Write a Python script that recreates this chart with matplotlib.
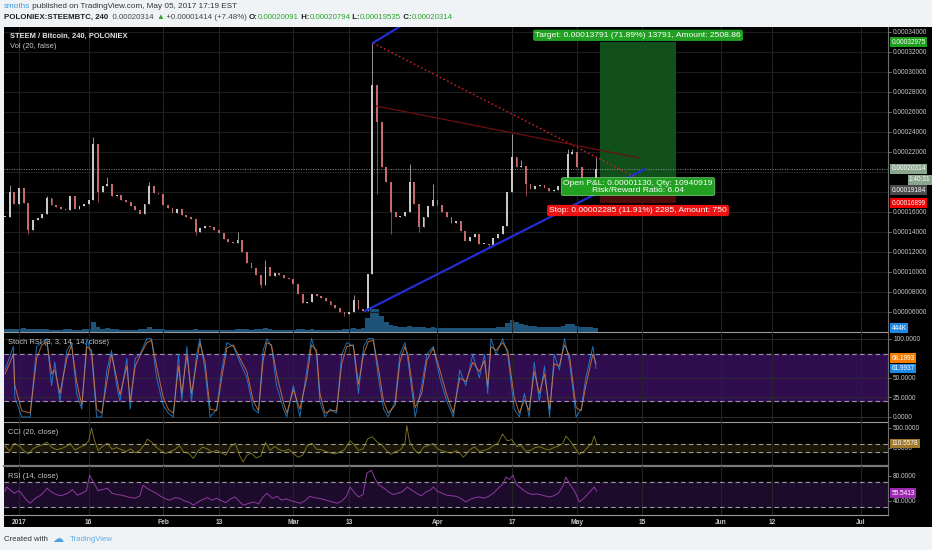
import matplotlib
matplotlib.use('Agg')
import matplotlib.pyplot as plt
import numpy as np
from matplotlib.patches import Rectangle

plt.rcParams['font.family'] = ['Liberation Sans', 'DejaVu Sans']

# ---- data (days counted from 2017-01-01) ----
first_day = -3
# daily close, in 1e-6 BTC
close_u = [155, 180, 168, 184, 169, 142, 152, 154, 158, 174,
           167, 165, 163, 162, 176, 163, 166, 168, 172, 228,
           180, 186, 188, 176, 177, 172, 170, 166, 162, 158,
           168, 186, 179, 178, 167, 164, 159, 163, 157, 155,
           153, 140, 144, 146, 145, 142, 139, 133, 130, 129,
           132, 120, 109, 104, 97, 87, 105, 96, 99, 97,
           94, 93, 88, 78, 69, 70, 78, 76, 74, 71,
           67, 64, 60, 58, 60, 72, 63, 61, 98, 287,
           250, 205, 190, 160, 155, 156, 160, 190, 168, 145,
           155, 166, 172, 167, 160, 155, 149, 151, 141, 131,
           135, 138, 128, 128, 127, 134, 138, 146, 180, 215,
           205, 206, 188, 183, 186, 187, 184, 181, 182, 186,
           187, 218, 220, 205, 182, 186, 188, 203.14]
high_wicks = {-2: 187, 6: 176, 16: 235, 19: 195, 28: 190, 38: 153, 47: 140,
              53: 112, 72: 77, 76: 330, 78: 240, 84: 208, 89: 188, 106: 238,
              108: 212, 118: 223, 119: 223, 124: 215}
low_wicks = {2: 138, 17: 170, 38: 137, 52: 84, 70: 56, 77: 178, 80: 138,
             86: 140, 101: 124, 109: 176, 121: 176}
# volume, thousands
volume_k = [300, 350, 320, 280, 400, 380, 320, 300, 280, 300,
            260, 250, 270, 300, 320, 260, 250, 280, 350, 1100,
            550, 380, 400, 300, 280, 260, 250, 240, 260, 280,
            350, 500, 350, 300, 280, 260, 240, 250, 230, 220,
            240, 300, 260, 240, 230, 220, 240, 260, 250, 240,
            300, 320, 280, 260, 300, 350, 400, 300, 260, 240,
            230, 220, 260, 300, 280, 260, 280, 250, 230, 220,
            220, 240, 260, 300, 280, 450, 350, 400, 1500, 2600,
            2500, 1800, 1100, 800, 650, 600, 550, 700, 600, 550,
            500, 480, 500, 450, 420, 400, 420, 400, 450, 480,
            430, 420, 440, 430, 420, 450, 500, 600, 1000, 1300,
            1100, 900, 800, 700, 650, 600, 600, 580, 560, 600,
            620, 900, 850, 700, 600, 550, 520, 444]

stoch_days = [-3.0, -1.2, -0.9, 0.6, 2.4, 3.8, 4.9, 6.0, 7.0, 7.7, 8.8, 10.3, 11.3, 12.4,
              13.5, 14.6, 15.6, 16.7, 17.8, 18.9, 19.9, 21.0, 21.7, 23.2, 23.9, 25.0, 26.0,
              27.5, 28.5, 29.6, 31.0, 32.1, 33.2, 34.3, 35.0, 36.1, 37.1, 38.2, 38.9, 40.0,
              41.1, 42.5, 43.6, 44.7, 46.1, 47.5, 49.0, 50.4, 51.5, 52.5, 53.3, 54.3, 55.4,
              56.9, 57.6, 59.0, 60.4, 61.9, 62.9, 64.0, 64.7, 65.8, 66.9, 68.3, 69.4, 70.5,
              71.9, 73.0, 74.1, 75.1, 76.2, 77.3, 78.4, 79.4, 80.9, 81.9, 83.0, 83.7, 85.2,
              86.6, 87.7, 89.1, 90.5, 92.0, 93.4, 94.8, 96.1, 97.6, 99.0, 100.1, 100.8,
              101.5, 102.6, 104.0, 105.1, 106.5, 107.6, 108.7, 109.7, 110.8, 111.9, 113.0,
              114.1, 115.1, 116.2, 117.3, 118.4, 119.8, 120.9, 121.9, 123.4, 124.1]
stoch_k = [60, 90, 25, 0, 0, 90, 95, 100, 40, 70, 20, 85, 95, 30, 10, 100, 80, 0, 0, 60,
           85, 40, 20, 75, 10, 75, 80, 100, 100, 50, 15, 5, 0, 80, 20, 90, 20, 80, 100, 60,
           0, 10, 60, 95, 90, 70, 50, 10, 5, 85, 100, 90, 40, 10, 0, 40, 0, 60, 100, 80,
           20, 0, 10, 5, 80, 95, 90, 30, 90, 100, 100, 50, 10, 0, 20, 80, 95, 70, 0, 40,
           80, 90, 50, 20, 0, 60,
           40, 80, 50, 80, 30, 100, 80, 100, 80, 10, 0, 30, 0, 70, 20, 65, 0, 80, 60, 100,
           70, 0, 10, 50, 90, 62]
stoch_d = [55, 80, 40, 8, 5, 75, 92, 96, 55, 60, 30, 75, 92, 45, 15, 90, 85, 10, 5, 45,
           80, 50, 28, 65, 20, 65, 78, 95, 98, 65, 25, 10, 5, 65, 30, 80, 30, 70, 95, 70,
           10, 8, 50, 88, 92, 75, 58, 20, 8, 72, 95, 92, 55, 18, 5, 35, 10, 50, 92, 85,
           30, 5, 8, 8, 68, 90, 92, 42, 80, 96, 98, 62, 20, 5, 15, 70, 90, 78, 12, 30,
           72, 88, 60, 28, 5, 50,
           45, 70, 58, 72, 40, 90, 85, 95, 85, 25, 5, 22, 8, 58, 30, 55, 10, 68, 65, 92,
           78, 12, 8, 40, 80, 68.2]

cci_days = [-3, -2, -1, 0, 1, 2, 3, 4, 5, 6, 7, 8, 9, 10, 11, 12, 13, 14, 15, 15.6, 16.2,
            17, 18, 19, 20, 21, 22, 23, 24, 25, 26, 27, 27.6, 28.5, 29.5, 30.5, 31.5, 32.5,
            33.5, 34.5, 35.5, 36.5, 37.5, 38.5, 39.5, 40.5, 41.5, 42.5, 43.5, 44.5, 45.5,
            46.5, 47.5, 48.2, 49, 50, 51, 52, 53, 54, 55, 56, 57, 58, 59, 60, 61, 62, 63,
            64, 65, 66, 67, 68, 69, 70, 71.2, 72, 73, 74, 75, 76, 77, 78, 79, 80, 81, 82,
            83, 83.4, 84, 85, 86, 87, 88, 89, 90, 91, 92, 93, 94, 95, 95.5, 96, 97, 98, 99,
            100, 101, 102, 103, 104, 105, 106, 107, 108, 109, 110, 111, 112, 113, 114, 115,
            116, 117, 117.6, 118.5, 119.5, 120.5, 121.5, 122.5, 123.2, 123.7, 124.2]
cci_vals = [50, -80, 120, 60, -60, -150, -20, 40, 80, 150, 20, -40, -20, 30, 110, -50, 10,
            60, 180, 500, 200, -60, 40, 120, -30, 10, -40, -90, -20, -120, -60, 90, 220,
            150, 20, -60, -140, -90, -40, 60, -110, -130, -260, -80, 20, -20, -100, -60,
            -120, -180, 40, 120, -200, -350, -180, -130, -250, -200, 140, -60, 40, -40,
            -80, -30, -140, -230, -180, 60, 120, -30, -40, -90, -120, -150, -100, -40, 180,
            90, -60, -20, 230, 280, 150, 80, -60, -160, -90, -50, 120, 560, 150, -40, -140,
            20, 60, 110, -20, -70, -100, -130, -60, -150, -230, -180, -40, 30, -90, -60,
            -20, 60, 120, 350, 180, 210, 40, 60, -80, -60, 10, 30, -20, -50, 10, 50, 120,
            300, 180, 20, -160, -80, 40, 120, 300, 110.56]

rsi_days = [-3, -2.7, -2, -1, 0, 0.5, 1.5, 2.4, 3.5, 4.5, 5.5, 6, 7, 8, 9, 10.5, 11.5, 12.5,
            13.5, 14.5, 15.2, 16, 17, 18, 19, 20, 21, 22, 23, 24, 25, 26, 26.7, 27.5, 28.5,
            29.5, 30.5, 31.5, 32.5, 33.5, 34.5, 35.5, 36.5, 37.5, 38.5, 39.5, 40.5, 41.5,
            42.5, 43.5, 44.5, 45.5, 46.5, 47.5, 48.2, 49.5, 50.5, 51.5, 52.5, 53.3, 54.5,
            55.5, 56.5, 57.5, 58.5, 59.5, 60.5, 61.5, 62.5, 63.5, 64.5, 65.5, 66.5, 67.5,
            68.5, 69.5, 70.5, 71.2, 72, 73, 74, 74.8, 75.8, 76.5, 77.3, 78.5, 79.5, 80.5,
            81.5, 82.5, 83.5, 84.5, 85.5, 86.5, 87.5, 88.5, 89.1, 90, 91, 92, 93, 94, 95,
            96.1, 97, 98, 99, 100, 101, 102, 103.3, 104, 104.7, 105.5, 106.2, 107, 108.3,
            109.5, 110.5, 111.5, 112.5, 113.5, 114.1, 115, 116, 117, 117.6, 118.5, 119.5,
            120.5, 121.5, 122.5, 123.7, 124.2]
rsi_vals = [55, 62, 58, 52, 56, 52, 42, 36, 44, 48, 55, 60, 54, 50, 48, 52, 58, 49, 52, 56,
            81, 70, 56, 58, 60, 52, 50, 49, 47, 45, 44, 48, 65, 60, 56, 52, 47, 43, 41, 45,
            44, 40, 38, 33, 38, 42, 45, 41, 44, 40, 37, 43, 46, 38, 33, 36, 38, 35, 46, 52,
            44, 47, 41, 43, 40, 38, 36, 40, 47, 45, 44, 42, 40, 38, 36, 40, 48, 62, 54, 46,
            50, 84, 89, 76, 66, 60, 54, 50, 52, 55, 62, 57, 52, 48, 54, 57, 62, 55, 52, 49,
            48, 47, 44, 38, 42, 45, 46, 44, 47, 52, 62, 66, 78, 74, 81, 66, 58, 52, 50, 51,
            49, 47, 46, 48, 52, 64, 78, 66, 55, 38, 44, 52, 62, 55.54]

tick_days = [0, 15, 31, 43, 59, 71, 90, 106, 120, 134, 151, 162, 181]
tick_labels = ['2017', '16', 'Feb', '13', 'Mar', '13', 'Apr', '17', 'May', '15', 'Jun', '12', 'Jul']
# price ticks whose labels are hidden behind the live-price boxes
price_ticks = [6, 8, 10, 12, 14, 16, 22, 24, 26, 28, 30, 32, 34]

# drawings on the price chart (day, price)
blue_low = ([74.4, 134.6], [0.000061, 0.000203])
blue_top = ([76.1, 82.8], [0.000329, 0.000348])
red_dotted = ([76.1, 132.5], [0.000329, 0.000195])
red_solid = ([76.8, 133.5], [0.000266, 0.000214])
entry, target, stop = 0.00019184, 0.00032975, 0.00016899
pos_days = (124.95, 141.3)
last_close = close_u[-1] * 1e-6

# ---- layout ----
W, H = 932, 550
fig = plt.figure(figsize=(W / 100, H / 100), dpi=100, facecolor='#f0f3f6')


def px_axes(x0, y0, x1, y1):
    return fig.add_axes([x0 / W, 1 - y1 / H, (x1 - x0) / W, (y1 - y0) / H], facecolor='none')


def ftext(x, y, s, **kw):
    return fig.text(x / W, 1 - y / H, s, **kw)


fig.add_artist(Rectangle((4 / W, 1 - 527 / H), 928 / W, 500 / H, transform=fig.transFigure,
                         facecolor='black', edgecolor='none', zorder=-5))

xlim = ((4 - 19) / 4.65, (888 - 19) / 4.65)
ax_vol = px_axes(4, 27, 888, 332)
ax = px_axes(4, 27, 888, 332)
ax_st = px_axes(4, 332, 888, 422)
ax_cci = px_axes(4, 422, 888, 466)
ax_rsi = px_axes(4, 466, 888, 515)

grid_c = '#242424'
lab_c = '#c8c8c8'
fmt4 = matplotlib.ticker.FuncFormatter(lambda v, p: f'{v:.4f}')
for a in (ax, ax_st, ax_cci, ax_rsi):
    a.set_xlim(*xlim)
    a.set_xticks(tick_days)
    a.tick_params(axis='x', length=0, labelbottom=False)
    a.grid(True, axis='x', color=grid_c, lw=0.8)
    for s in ('top', 'left'):
        a.spines[s].set_visible(False)
    a.spines['right'].set_color('#6e6e6e')
    a.spines['bottom'].set_color('#9a9a9a')
    a.yaxis.tick_right()
    a.tick_params(axis='y', labelcolor=lab_c, labelsize=4.7, length=2.5, width=0.6,
                  color='#888888', pad=1.2)
    a.set_axisbelow(True)
ax_cci.spines['bottom'].set_linewidth(1.6)
ax_cci.spines['bottom'].set_color('#7a7a7a')

ax_vol.set_xlim(*xlim)
ax_vol.set_ylim(0, 444 * 305 / 4)
ax_vol.axis('off')

# price panel
days = np.arange(first_day, first_day + len(close_u))
closes = np.array(close_u) * 1e-6
opens = np.concatenate([[closes[0]], closes[:-1]])
highs = np.maximum(opens, closes)
lows = np.minimum(opens, closes)
for d, v in high_wicks.items():
    highs[d - first_day] = max(highs[d - first_day], v * 1e-6)
for d, v in low_wicks.items():
    lows[d - first_day] = min(lows[d - first_day], v * 1e-6)
cols = np.where(closes >= opens, '#c8c8c8', '#c86a6a')
ax.vlines(days, lows, highs, colors=cols, lw=0.5, zorder=3)
ax.bar(days, np.maximum(np.abs(closes - opens), 1.0e-6), bottom=np.minimum(opens, closes),
       width=0.4, color=cols, zorder=3)

ax_vol.bar(days, volume_k, width=1.0, color='#23628f', alpha=0.85)

ax.set_ylim(0.000040, 0.000345)
ax.set_yticks(np.array(price_ticks) * 1e-5)
ax.yaxis.set_major_formatter(matplotlib.ticker.FuncFormatter(lambda v, p: f'{v:.8f}'))
ax.grid(True, axis='y', color='#1c1c1c', lw=0.8)
for v in (18, 20):
    ax.axhline(v * 1e-5, color='#1c1c1c', lw=0.8, zorder=0)
ax.axhline(last_close, color='#8f8f8f', ls=(0, (1, 1.5)), lw=0.7, zorder=2)

ax.plot(*blue_low, color='#1f2fd0', lw=1.6, zorder=4, solid_capstyle='round')
ax.plot(*blue_top, color='#1f2fd0', lw=1.6, zorder=4)
ax.plot(*red_dotted, color='#d42020', lw=1.0, ls=(0, (1.2, 1.8)), zorder=4)
ax.plot(*red_solid, color='#6a1010', lw=0.9, zorder=4)

ax.add_patch(Rectangle((pos_days[0], entry), pos_days[1] - pos_days[0], target - entry,
                       facecolor='#11501a', edgecolor='none', zorder=1))
ax.add_patch(Rectangle((pos_days[0], stop), pos_days[1] - pos_days[0], entry - stop,
                       facecolor='#4e0b0b', edgecolor='none', zorder=1))
mid = (pos_days[0] + pos_days[1]) / 2
box_kw = dict(textcoords='offset points', ha='center', va='center', fontsize=6.1,
              color='white', annotation_clip=False, zorder=8)
ax.annotate('Target: 0.00013791 (71.89%) 13791, Amount: 2508.86', xy=(mid, target),
            xytext=(0, 5), bbox=dict(boxstyle='round,pad=0.25,rounding_size=0.25',
                                     fc='#22a022', ec='none'), **box_kw)
ax.annotate('Open P&L: 0.00001130, Qty: 10940919\nRisk/Reward Ratio: 6.04', xy=(mid, entry),
            xytext=(0, -4.7), linespacing=0.95,
            bbox=dict(boxstyle='round,pad=0.25,rounding_size=0.25', fc='#22a022',
                      ec='#9be09b', lw=0.4), **box_kw)
ax.annotate('Stop: 0.00002285 (11.91%) 2285, Amount: 750', xy=(mid, stop),
            xytext=(0, -5.4), bbox=dict(boxstyle='round,pad=0.25,rounding_size=0.25',
                                        fc='#ec1212', ec='none'), **box_kw)


def axis_box(a, y, text, fc, dy=0, ha='left', dx=2.6):
    a.annotate(text, xy=(1, y), xycoords=('axes fraction', 'data'), xytext=(dx, dy),
               textcoords='offset points', ha=ha, va='center', fontsize=4.7, color='white',
               bbox=dict(boxstyle='square,pad=0.2', fc=fc, ec='none'),
               annotation_clip=False, zorder=10)


axis_box(ax, target, '0.00032975', '#1e9e1e')
axis_box(ax, last_close, '0.00020314', '#8aa58e')
axis_box(ax, last_close, '1:40:31', '#8aa58e', dy=-7.9, ha='right', dx=30.6)
axis_box(ax, entry, '0.00019184', '#4a4a4a', dy=-7.2)
axis_box(ax, stop, '0.00016899', '#f00000')
axis_box(ax_vol, volume_k[-1], '444K', '#1e88e5')

# stoch RSI
ax_st.set_ylim(-6.4, 108.5)
ax_st.axhspan(20, 80, color='#2f0d4f', zorder=0)
for v in (20, 80):
    ax_st.axhline(v, color='#9a9a9a', ls=(0, (4, 3)), lw=0.8, zorder=1)
ax_st.set_yticks([0, 25, 50, 100])
ax_st.yaxis.set_major_formatter(fmt4)
ax_st.grid(True, axis='y', color='#2a2a2a', lw=0.7)
ax_st.plot(stoch_days, stoch_k, color='#2196f3', lw=0.7, alpha=0.75, zorder=3)
ax_st.plot(stoch_days, stoch_d, color='#e0803a', lw=0.7, alpha=0.8, zorder=4)
axis_box(ax_st, stoch_d[-1], '68.1993', '#f57c00', dy=4)
axis_box(ax_st, stoch_k[-1], '61.9937', '#1e88e5')

# CCI
ax_cci.set_ylim(-450, 650)
ax_cci.axhspan(-100, 100, color='#1a1709', zorder=0)
for v in (-100, 100):
    ax_cci.axhline(v, color='#9a9a9a', ls=(0, (4, 3)), lw=0.8, zorder=1)
ax_cci.set_yticks([0, 500])
ax_cci.yaxis.set_major_formatter(fmt4)
ax_cci.plot(cci_days, cci_vals, color='#a89a28', lw=0.6, alpha=0.8, zorder=3)
axis_box(ax_cci, cci_vals[-1], '110.5578', '#a07a2c')

# RSI
ax_rsi.set_ylim(17.2, 95.6)
ax_rsi.axhspan(30, 70, color='#1d0b2b', zorder=0)
for v in (30, 70):
    ax_rsi.axhline(v, color='#9a9a9a', ls=(0, (4, 3)), lw=0.8, zorder=1)
ax_rsi.set_yticks([40, 80])
ax_rsi.yaxis.set_major_formatter(fmt4)
ax_rsi.plot(rsi_days, rsi_vals, color='#8e3aa0', lw=0.7, zorder=3)
axis_box(ax_rsi, rsi_vals[-1], '55.5413', '#9c27b0', dy=-1.5)
ax_rsi.set_xticks(tick_days, tick_labels)
ax_rsi.tick_params(axis='x', labelbottom=True, labelcolor=lab_c, labelsize=4.8, pad=2.6)
for t in ax_rsi.get_xticklabels():
    t.set_fontweight('bold')

# panel titles
ftext(10, 36.5, 'STEEM / Bitcoin, 240, POLONIEX', color='#e6e6e6', fontsize=5.4,
      fontweight='bold', va='center')
ftext(10, 47, 'Vol (20, false)', color=lab_c, fontsize=5.4, va='center')
ftext(8, 343, 'Stoch RSI (3, 3, 14, 14, close)', color=lab_c, fontsize=5.4, va='center')
ftext(8, 433, 'CCI (20, close)', color=lab_c, fontsize=5.4, va='center')
ftext(8, 477, 'RSI (14, close)', color=lab_c, fontsize=5.4, va='center')

# header
renderer = fig.canvas.get_renderer()


def text_run(x, y, pieces, size):
    for s, c, w in pieces:
        t = ftext(x, y, s, color=c, fontsize=size, fontweight=w, va='center')
        x += t.get_window_extent(renderer).width


green = '#2ea42e'
text_run(4, 7, [('smoths', '#3d9be0', 'normal'),
                (' published on TradingView.com, May 05, 2017 17:19 EST', '#333333', 'normal')], 5.9)
text_run(4, 17.5, [('POLONIEX:STEEMBTC, 240', '#1e1e1e', 'bold'),
                   ('  0.00020314 ', '#444444', 'normal'), ('▲', green, 'normal'),
                   (' +0.00001414 (+7.48%) ', '#444444', 'normal'),
                   ('O:', '#1e1e1e', 'bold'), ('0.00020091', green, 'normal'),
                   (' H:', '#1e1e1e', 'bold'), ('0.00020794', green, 'normal'),
                   (' L:', '#1e1e1e', 'bold'), ('0.00019535', green, 'normal'),
                   (' C:', '#1e1e1e', 'bold'), ('0.00020314', green, 'normal')], 5.65)

# footer
ftext(4, 539.5, 'Created with', color='#333333', fontsize=5.6, va='center')
ftext(52, 538.5, '\u2601', color='#4aa3df', fontsize=8, va='center', family='DejaVu Sans')
ftext(70, 539.5, 'TradingView', color='#5aaee6', fontsize=5.6, va='center')

fig.savefig('out.png', dpi=100, facecolor=fig.get_facecolor())
